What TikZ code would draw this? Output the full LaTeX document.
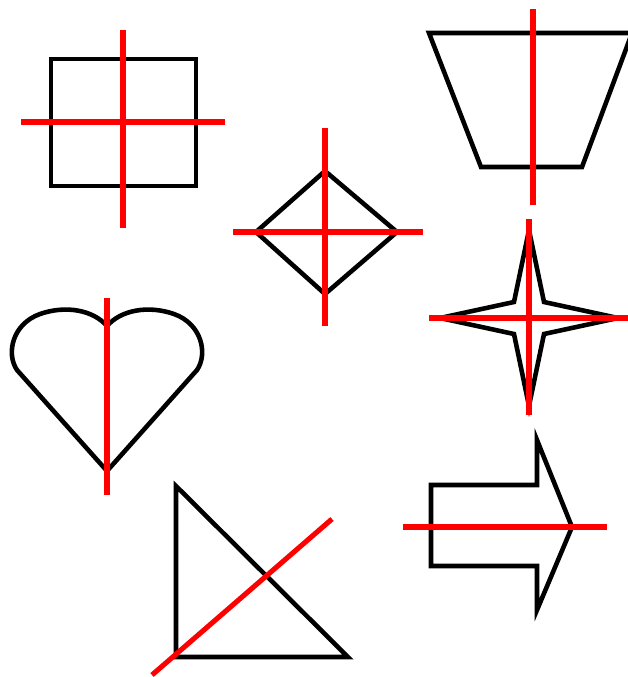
\documentclass[tikz,border=0pt]{standalone}
\begin{document}
\begin{tikzpicture}[x=0.02cm, y=-0.02cm,
    outline/.style={draw=black, line width=2.6pt, line join=miter},
    symline/.style={draw=red, line width=2.9pt}]

    % Cornice
    \clip (0,0) rectangle (628,677);

    % Quadrato
    \draw[outline] (51,59) rectangle (196,186);
    \draw[symline] (123,30) -- (123,228);
    \draw[symline] (21,122) -- (225,122);

    % Rombo
    \draw[outline] (325,171) -- (397,232) -- (325,294) -- (256,232) -- cycle;
    \draw[symline] (325,128) -- (325,326);
    \draw[symline] (233,232) -- (423,232);

    % Trapezio
    \draw[outline] (429,33) -- (632,33) -- (582,167) -- (481,167) -- cycle;
    \draw[symline] (533,9) -- (533,205);

    % Stella
    \draw[outline] (529,230) -- (544,302) -- (618,318) -- (544,334)
        -- (529,406) -- (514,334) -- (440,318) -- (514,302) -- cycle;
    \draw[symline] (529,219) -- (529,415);
    \draw[symline] (429,318) -- (628,318);

    % Cuore
    \draw[outline] (107,471) -- (17,370)
        .. controls (6,354) and (12,324) .. (40,314)
        .. controls (66,305) and (93,310) .. (107,326)
        .. controls (121,310) and (148,305) .. (174,314)
        .. controls (202,324) and (208,354) .. (197,370)
        -- cycle;
    \draw[symline] (107,298) -- (107,495);

    % Triangolo
    \draw[outline] (176,486) -- (348,657) -- (176,657) -- cycle;
    \draw[symline] (152,675) -- (332,519);

    % Freccia
    \draw[outline] (431,485) -- (537,485) -- (537,440) -- (572,527)
        -- (537,610) -- (537,566) -- (431,566) -- cycle;
    \draw[symline] (403,527) -- (607,527);

\end{tikzpicture}
\end{document}
